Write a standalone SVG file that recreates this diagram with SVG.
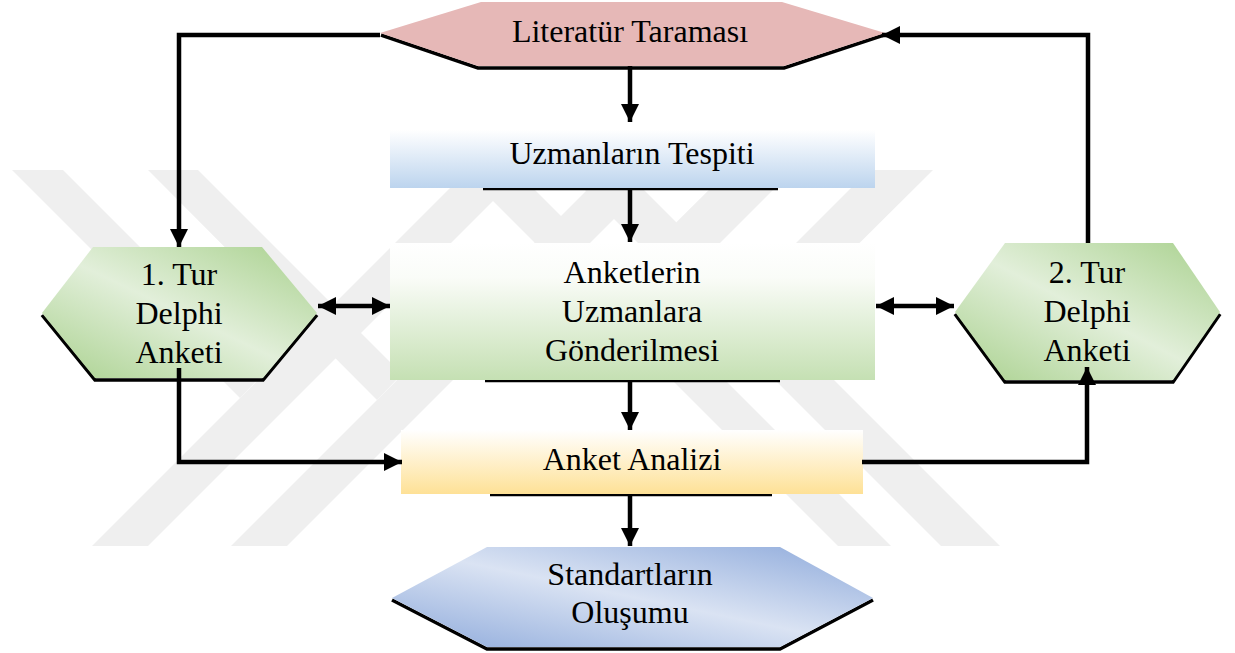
<svg xmlns="http://www.w3.org/2000/svg" width="1235" height="653" viewBox="0 0 1235 653">
<style>
text{font-family:"Liberation Serif","DejaVu Serif",serif;font-size:32px;fill:#000;text-anchor:middle}
.wm{fill:#efefef}
.conn{fill:none;stroke:#000;stroke-width:4.5}
.sh{fill:none;stroke:#000;stroke-width:3.5;stroke-linejoin:miter}
.shl{stroke:#000;stroke-width:2.5}
</style>
<defs>
<marker id="ah" viewBox="0 0 10 10" refX="10" refY="5" markerWidth="4" markerHeight="4" orient="auto-start-reverse" markerUnits="strokeWidth">
<path d="M0,0L10,5L0,10z" fill="#000"/>
</marker>
<linearGradient id="gBlue" x1="0" y1="0" x2="0" y2="1">
<stop offset="0" stop-color="#ffffff"/><stop offset="1" stop-color="#bcd4ee"/>
</linearGradient>
<linearGradient id="gGreenR" x1="0" y1="0" x2="0" y2="1">
<stop offset="0" stop-color="#ffffff"/><stop offset="0.25" stop-color="#fafcf8"/><stop offset="1" stop-color="#c5e0b3"/>
</linearGradient>
<linearGradient id="gYel" x1="0" y1="0" x2="0" y2="1">
<stop offset="0" stop-color="#ffffff"/><stop offset="1" stop-color="#fee196"/>
</linearGradient>
<linearGradient id="gGreenH" x1="1" y1="0" x2="0" y2="1">
<stop offset="0" stop-color="#a9d18e"/><stop offset="0.5" stop-color="#e2efda"/><stop offset="1" stop-color="#a9d18e"/>
</linearGradient>
<linearGradient id="gBlueH" x1="1" y1="0" x2="0" y2="1">
<stop offset="0" stop-color="#8eaadb"/><stop offset="0.5" stop-color="#dae3f3"/><stop offset="1" stop-color="#8eaadb"/>
</linearGradient>
</defs>

<g id="watermark">
<polygon class="wm" points="12,170 63,170 265,372 240,398"/>
<polygon class="wm" points="92,546 148,546 524,170 468,170"/>
<polygon class="wm" points="462,170 515,170 891,546 838,546"/>
<polygon class="wm" points="729,170 793,170 654,309 595,303"/>
<polygon class="wm" points="148,170 198,170 402,374 377,400"/>
<polygon class="wm" points="231,546 287,546 663,170 607,170"/>
<polygon class="wm" points="565,170 624,170 1000,546 941,546"/>
<polygon class="wm" points="869,170 933,170 778,324 717,322"/>
</g>

<g id="n-literatur">
<polyline class="sh" points="381,35 478,68 784,68 884,35"/>
<polygon points="380,33 481,2 782,2 885,33 784,66 478,66" fill="#e6b8b7"/>
<text x="630" y="42">Literatür Taraması</text>
</g>

<g id="n-uzmanlarin">
<line class="shl" x1="483" y1="189" x2="778" y2="189"/>
<rect x="390" y="130" width="485" height="58" fill="url(#gBlue)"/>
<text x="632" y="164">Uzmanların Tespiti</text>
</g>

<g id="n-anketlerin">
<line class="shl" x1="485" y1="381" x2="780" y2="381"/>
<rect x="390" y="243" width="485" height="137" fill="url(#gGreenR)"/>
<text x="632" y="283">Anketlerin</text>
<text x="632" y="322">Uzmanlara</text>
<text x="632" y="361">Gönderilmesi</text>
</g>

<g id="n-tur1">
<polyline class="sh" points="42,315 95,380 263,380 317,315"/>
<polygon points="42,313 93,247 262,247 317,313 263,378 95,378" fill="url(#gGreenH)"/>
<text x="179" y="285">1. Tur</text>
<text x="179" y="324">Delphi</text>
<text x="179" y="363">Anketi</text>
</g>

<g id="n-tur2">
<polyline class="sh" points="955,314 1005,382 1173,382 1220,314"/>
<polygon points="955,312 1005,243 1173,243 1220,312 1173,380 1005,380" fill="url(#gGreenH)"/>
<text x="1087" y="283">2. Tur</text>
<text x="1087" y="322">Delphi</text>
<text x="1087" y="361">Anketi</text>
</g>

<g id="n-analiz">
<line class="shl" x1="490" y1="495" x2="772" y2="495"/>
<rect x="401" y="430" width="462" height="64" fill="url(#gYel)"/>
<text x="632" y="470">Anket Analizi</text>
</g>

<g id="n-standart">
<polyline class="sh" points="392,600 487,649 780,649 873,600"/>
<polygon points="392,598 487,547 780,547 873,598 780,647 487,647" fill="url(#gBlueH)"/>
<text x="630" y="585">Standartların</text>
<text x="630" y="623">Oluşumu</text>
</g>

<g id="connectors">
<line class="conn" x1="630" y1="66" x2="630" y2="122" marker-end="url(#ah)"/>
<line class="conn" x1="630" y1="188" x2="630" y2="242" marker-end="url(#ah)"/>
<line class="conn" x1="630" y1="380" x2="630" y2="430" marker-end="url(#ah)"/>
<line class="conn" x1="630" y1="494" x2="630" y2="546" marker-end="url(#ah)"/>
<polyline class="conn" points="380,35 179,35 179,247" marker-end="url(#ah)"/>
<polyline class="conn" points="1088,243 1088,35 882,35" marker-end="url(#ah)"/>
<polyline class="conn" points="179,368 179,462 402,462" marker-end="url(#ah)"/>
<polyline class="conn" points="862,462 1087,462 1087,367" marker-end="url(#ah)"/>
<line class="conn" x1="318" y1="306" x2="390" y2="306" marker-start="url(#ah)" marker-end="url(#ah)"/>
<line class="conn" x1="876" y1="306" x2="954" y2="306" marker-start="url(#ah)" marker-end="url(#ah)"/>
</g>
</svg>
